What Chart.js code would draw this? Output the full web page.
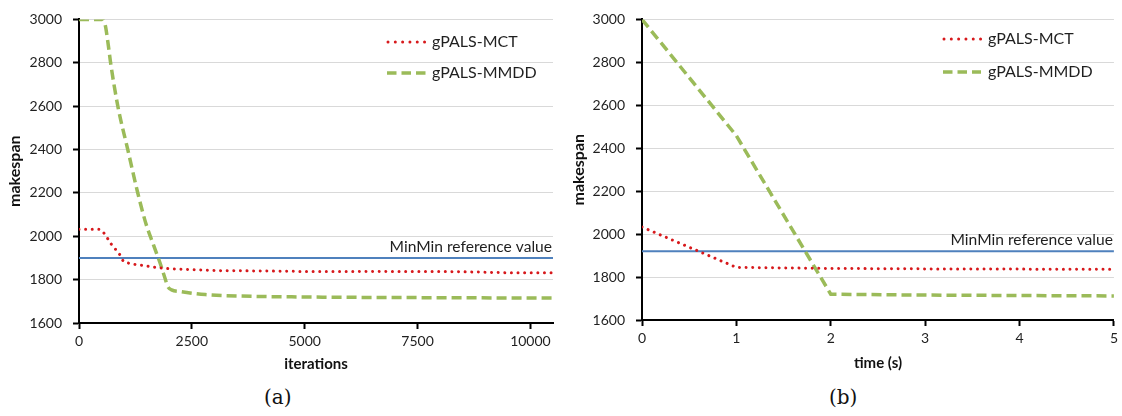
<!DOCTYPE html>
<html><head><meta charset="utf-8">
<script src="https://cdn.jsdelivr.net/npm/chart.js@4.4.1/dist/chart.umd.min.js"></script>
<style>
html,body{margin:0;padding:0;background:#fff;}
body{width:1122px;height:416px;position:relative;overflow:hidden;}
canvas{position:absolute;top:0;}
#ca{left:0;}
#cb{left:560px;}
.cap{position:absolute;top:385px;font-family:"DejaVu Serif","Liberation Serif",serif;font-size:20px;color:#111;}
</style></head><body>
<canvas id="ca" width="560" height="380"></canvas>
<canvas id="cb" width="562" height="380"></canvas>
<div class="cap" style="left:264px">(a)</div>
<div class="cap" style="left:829px">(b)</div>
<script>
// ---------- data ----------
const seriesNames = ['gPALS-MCT', 'gPALS-MMDD'];
const refLabel = 'MinMin reference value';

// (a) makespan vs iterations
const aMctX  = [0, 450, 550, 720, 900, 980, 1100, 1400, 1850, 2500, 3000, 4000, 5000, 6000, 7000, 8000, 8800, 9500, 10500];
const aMctY  = [2032, 2032, 2015, 1962, 1916, 1886, 1876, 1866, 1853, 1846, 1842, 1840, 1838, 1838, 1837, 1837, 1835, 1832, 1832];
const aMmddX = [0, 520, 580, 650, 700, 860, 1080, 1290, 1480, 1650, 1790, 1900, 1970, 2050, 2250, 2800, 3600, 5000, 7500, 10500];
const aMmddY = [3000, 3000, 2975, 2880, 2800, 2600, 2400, 2210, 2060, 1960, 1880, 1810, 1767, 1753, 1745, 1731, 1724, 1720, 1717, 1715];
const aRef = 1900;
const aXTicks = [0, 2500, 5000, 7500, 10000];
const aXMax = 10500;

// (b) makespan vs time (s)
const bMctX  = [0, 1, 2, 3, 4, 5];
const bMctY  = [2033, 1845, 1840, 1838, 1837, 1836];
const bMmddX = [0, 1, 2, 3, 4, 5];
const bMmddY = [3000, 2458, 1720, 1716, 1714, 1712];
const bRef = 1920;
const bXTicks = [0, 1, 2, 3, 4, 5];
const bXMax = 5;

const yTicks = [1600, 1800, 2000, 2200, 2400, 2600, 2800, 3000];
const axisTitles = {a: 'iterations', b: 'time (s)', y: 'makespan'};

// ---------- helpers ----------
const FONT = 'Lato, "Noto Sans", sans-serif';
const TXT = '#1f1f1f';
const pts = (xs, ys) => xs.map((x, i) => ({x, y: ys[i]}));

const overlay = {
  id: 'overlay',
  afterDatasetsDraw(chart, args, o) {
    const ctx = chart.ctx, ca = chart.chartArea;
    ctx.save();
    // reference label
    const ry = chart.scales.y.getPixelForValue(o.ref);
    ctx.font = '15.6px ' + FONT;
    ctx.fillStyle = TXT;
    ctx.textAlign = 'right';
    ctx.textBaseline = 'alphabetic';
    ctx.fillText(refLabel, ca.right - 1, ry - 6);
    // legend
    o.items.forEach((it) => {
      const ds = chart.data.datasets[it.ds];
      ctx.save();
      ctx.strokeStyle = ds.borderColor;
      ctx.lineWidth = ds.borderWidth;
      ctx.lineCap = ds.borderCapStyle || 'butt';
      ctx.setLineDash(it.dash || ds.borderDash || []);
      ctx.beginPath();
      ctx.moveTo(it.x0, it.y);
      ctx.lineTo(it.x1, it.y);
      ctx.stroke();
      ctx.restore();
      ctx.font = '16px ' + FONT;
      ctx.fillStyle = TXT;
      ctx.textAlign = 'left';
      ctx.textBaseline = 'middle';
      ctx.fillText(ds.label, it.tx, it.y);
    });
    ctx.restore();
  }
};

function makeChart(id, cfg) {
  const ds = [
    {label: seriesNames[0], data: pts(cfg.mctX, cfg.mctY), borderColor: '#d7191c', borderWidth: 3,
     borderDash: [0.01, 6.6], borderCapStyle: 'round', pointRadius: 0, cubicInterpolationMode: cfg.interp, fill: false},
    {label: seriesNames[1], data: pts(cfg.mmddX, cfg.mmddY), borderColor: '#9bbb59', borderWidth: 3.5,
     borderDash: [10, 5], borderCapStyle: 'butt', pointRadius: 0, cubicInterpolationMode: cfg.interp, fill: false},
    {label: refLabel, data: pts([0, cfg.xMax], [cfg.ref, cfg.ref]), borderColor: '#4f81bd', borderWidth: 2,
     pointRadius: 0, tension: 0, fill: false}
  ];
  return new Chart(document.getElementById(id), {
    type: 'line',
    data: {datasets: ds},
    plugins: [overlay],
    options: {
      responsive: false,
      animation: false,
      devicePixelRatio: 1,
      layout: {padding: {top: cfg.top, right: cfg.right, left: 0, bottom: 0}},
      plugins: {
        legend: {display: false},
        tooltip: {enabled: false},
        overlay: {ref: cfg.ref, items: cfg.legend}
      },
      scales: {
        x: {
          type: 'linear', min: 0, max: cfg.xMax,
          afterFit: (s) => { s.height = cfg.xH; },
          afterBuildTicks: (s) => { s.ticks = cfg.xTicks.map(v => ({value: v})); },
          ticks: {font: {family: FONT, size: 14}, color: TXT, padding: 4, maxRotation: 0, callback: (v) => String(v)},
          grid: {drawOnChartArea: false, drawTicks: true, tickLength: 6, tickColor: '#000', tickWidth: 2},
          border: {display: true, color: '#000', width: 2},
          title: {display: true, text: cfg.xTitle, font: {family: FONT, size: 15, weight: 'bold'}, color: '#111',
                  padding: {top: 0, bottom: cfg.xTitlePad}}
        },
        y: {
          type: 'linear', min: 1600, max: 3000,
          afterFit: (s) => { s.width = cfg.yW; },
          afterBuildTicks: (s) => { s.ticks = yTicks.map(v => ({value: v})); },
          ticks: {font: {family: FONT, size: 14}, color: TXT, padding: 11, callback: (v) => String(v)},
          grid: {color: '#d9d9d9', lineWidth: 1, drawTicks: true, tickLength: 6, tickColor: '#000', tickWidth: 2},
          border: {display: true, color: '#000', width: 2},
          title: {display: true, text: axisTitles.y, font: {family: FONT, size: 16, weight: 'bold'}, color: '#111',
                  padding: {top: cfg.yTitlePad, bottom: 0}}
        }
      }
    }
  });
}

makeChart('ca', {
  mctX: aMctX, mctY: aMctY, mmddX: aMmddX, mmddY: aMmddY, ref: aRef, xMax: aXMax, xTicks: aXTicks,
  xTitle: axisTitles.a, top: 14, right: 7, xH: 57, yW: 79, xTitlePad: 7, yTitlePad: 5, interp: 'monotone',
  legend: [
    {ds: 0, x0: 388, x1: 426, y: 42, tx: 432, dash: [0.01, 7.3]},
    {ds: 1, x0: 387, x1: 426, y: 73, tx: 432, dash: [9.5, 5]}
  ]
});
makeChart('cb', {
  mctX: bMctX, mctY: bMctY, mmddX: bMmddX, mmddY: bMmddY, ref: bRef, xMax: bXMax, xTicks: bXTicks,
  xTitle: axisTitles.b, top: 10, right: 7, xH: 60, yW: 82, xTitlePad: 8, yTitlePad: 9, interp: 'default',
  legend: [
    {ds: 0, x0: 384, x1: 421, y: 39, tx: 428, dash: [0.01, 7.3]},
    {ds: 1, x0: 383, x1: 421, y: 72, tx: 428, dash: [9.5, 5]}
  ]
});
</script>
</body></html>
